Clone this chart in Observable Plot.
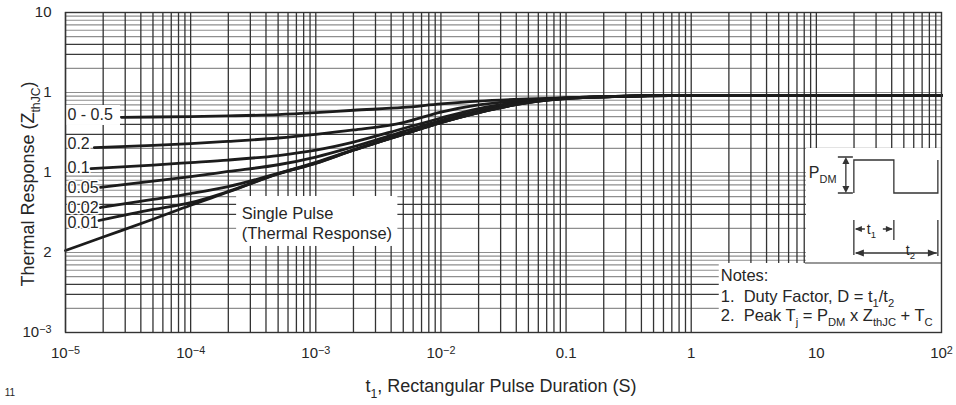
<!DOCTYPE html>
<html><head><meta charset="utf-8">
<script src="https://cdn.jsdelivr.net/npm/d3@7"></script>
<script src="https://cdn.jsdelivr.net/npm/@observablehq/plot@0.6"></script>
<style>
html,body{margin:0;padding:0;background:#fff;}
#chart{width:956px;height:405px;overflow:hidden;}
</style></head><body><div id="chart"></div>
<script>
// ---------- data ----------
const tSingle = [1e-5, 2e-5, 5e-5, 1e-4, 2e-4, 5e-4, 1e-3, 2e-3, 5e-3, 1e-2, 2e-2, 5e-2, 0.1, 0.2, 1, 10, 100];
const zSingle = [0.0106, 0.0156, 0.026, 0.039, 0.057, 0.096, 0.13, 0.19, 0.30, 0.42, 0.56, 0.75, 0.84, 0.88, 0.92, 0.92, 0.92];

const tD05 = [2.8e-5, 5e-5, 1e-4, 2e-4, 5e-4, 1e-3, 2e-3, 5e-3, 1e-2, 2e-2, 5e-2, 0.1, 0.2, 1, 10, 100];
const zD05 = [0.49, 0.494, 0.50, 0.51, 0.53, 0.56, 0.60, 0.65, 0.72, 0.78, 0.83, 0.86, 0.89, 0.92, 0.92, 0.92];

const tD02 = [1.7e-5, 5e-5, 1e-4, 2e-4, 5e-4, 1e-3, 2e-3, 5e-3, 1e-2, 2e-2, 5e-2, 0.1, 0.2, 1, 10, 100];
const zD02 = [0.205, 0.218, 0.229, 0.245, 0.27, 0.30, 0.34, 0.42, 0.57, 0.70, 0.80, 0.855, 0.885, 0.92, 0.92, 0.92];

const tD01 = [1.6e-5, 5e-5, 1e-4, 2e-4, 5e-4, 1e-3, 2e-3, 5e-3, 1e-2, 2e-2, 5e-2, 0.1, 0.2, 1, 10, 100];
const zD01 = [0.112, 0.124, 0.133, 0.143, 0.163, 0.19, 0.24, 0.355, 0.48, 0.63, 0.78, 0.85, 0.885, 0.92, 0.92, 0.92];

const tD005 = [1.9e-5, 5e-5, 1e-4, 2e-4, 5e-4, 1e-3, 2e-3, 5e-3, 1e-2, 2e-2, 5e-2, 0.1, 0.2, 1, 10, 100];
const zD005 = [0.065, 0.078, 0.089, 0.103, 0.125, 0.156, 0.21, 0.325, 0.45, 0.59, 0.77, 0.845, 0.88, 0.92, 0.92, 0.92];

const tD002 = [1.9e-5, 5e-5, 1e-4, 2e-4, 5e-4, 1e-3, 2e-3, 5e-3, 1e-2, 2e-2, 5e-2, 0.1, 0.2, 1, 10, 100];
const zD002 = [0.0365, 0.046, 0.0546, 0.0668, 0.0975, 0.134, 0.192, 0.302, 0.422, 0.562, 0.752, 0.842, 0.882, 0.92, 0.92, 0.92];

const tD001 = [1.85e-5, 5e-5, 1e-4, 2e-4, 5e-4, 1e-3, 2e-3, 5e-3, 1e-2, 2e-2, 5e-2, 0.1, 0.2, 1, 10, 100];
const zD001 = [0.0251, 0.0345, 0.042, 0.058, 0.0965, 0.131, 0.19, 0.30, 0.42, 0.56, 0.75, 0.84, 0.88, 0.92, 0.92, 0.92];

const xTicks = [1e-5, 1e-4, 1e-3, 1e-2, 0.1, 1, 10, 100];
const xTickLabels = ["10^-5", "10^-4", "10^-3", "10^-2", "0.1", "1", "10", "10^2"];
const yTicks = [10, 1, 0.1, 0.01, 0.001];
const yTickLabels = ["10", "1", "1", "2", "10^-3"];

const curveLabels = ["0 - 0.5", "0.2", "0.1", "0.05", "0.02", "0.01"];
const curveLabelY = [0.531, 0.230, 0.114, 0.064, 0.0365, 0.0234];

// ---------- derived tables ----------
const series = [
  {name: "Single", t: tSingle, z: zSingle},
  {name: "0.5", t: tD05, z: zD05},
  {name: "0.2", t: tD02, z: zD02},
  {name: "0.1", t: tD01, z: zD01},
  {name: "0.05", t: tD005, z: zD005},
  {name: "0.02", t: tD002, z: zD002},
  {name: "0.01", t: tD001, z: zD001}
];
const rows = series.flatMap(s => s.t.map((t, i) => ({series: s.name, t, z: s.z[i]})));

const xGrid = [], yGridDark = [], yGridSoft = [];
for (let e = -5; e <= 1; e++) for (let k = 1; k <= 9; k++) xGrid.push(k * Math.pow(10, e));
for (let e = -3; e <= 0; e++) for (let k = 1; k <= 9; k++) {
  const v = k * Math.pow(10, e);
  if (v <= 1e-3 * 1.0001) continue;
  (k === 3 || k === 4 ? yGridDark : yGridSoft).push(v);
}

const labelRows = curveLabels.map((text, i) => ({text, x: 1e-5, y: curveLabelY[i]}));
const boxes = [
  {x1: 1e-5, x2: 2.75e-5, y1: 0.688, y2: 0.387},      // "0 - 0.5" label box
  {x1: 2.33e-4, x2: 4.53e-3, y1: 0.0501, y2: 0.0119},  // single pulse label box
  {x1: 8.32, x2: 100, y1: 0.1995, y2: 0.00729},        // pulse diagram box
  {x1: 1.675, x2: 100, y1: 0.00729, y2: 0.001}         // notes box
];

function lookup(ticks, labels) {
  return d => {
    const i = ticks.findIndex(t => Math.abs(Math.log10(t) - Math.log10(d)) < 1e-6);
    return i >= 0 ? labels[i] : "";
  };
}

const FONT = "'Liberation Sans', Arial, Helvetica, sans-serif";
const INK = "#262626";

const plot = Plot.plot({
  width: 956, height: 405,
  marginLeft: 65, marginRight: 15, marginTop: 12, marginBottom: 73,
  style: {fontFamily: FONT, fontSize: "15px", color: INK, background: "#fff"},
  x: {type: "log", domain: [1e-5, 100]},
  y: {type: "log", domain: [1e-3, 10]},
  marks: [
    Plot.ruleY(yGridSoft, {stroke: "#8e8e8e", strokeWidth: 1.15}),
    Plot.ruleY(yGridDark, {stroke: "#3a3a3a", strokeWidth: 1.2}),
    Plot.ruleX(xGrid, {stroke: "#333", strokeWidth: 1.3}),
    Plot.rect(boxes, {x1: "x1", x2: "x2", y1: "y1", y2: "y2", fill: "white"}),
    Plot.line(rows, {x: "t", y: "z", z: "series", stroke: "#1c1c1c", strokeWidth: 2.8, curve: "monotone-x"}),
    Plot.text(labelRows, {x: "x", y: "y", text: "text", dx: 2, textAnchor: "start", fontSize: 16, fill: INK, stroke: "white", strokeWidth: 3}),
    Plot.text([{text: "Single Pulse\n(Thermal Response)", x: 2.56e-4, y: 0.0237}],
      {x: "x", y: "y", text: "text", textAnchor: "start", lineAnchor: "middle", lineHeight: 1.2, fontSize: 16.5, fill: INK}),
    Plot.frame({stroke: "#333", strokeWidth: 1.4}),
    Plot.axisX({ticks: xTicks, tickFormat: lookup(xTicks, xTickLabels), tickSize: 0, tickPadding: 15, label: null, fontSize: 15}),
    Plot.axisY({ticks: yTicks, tickFormat: lookup(yTicks, yTickLabels), tickSize: 0, tickPadding: 14, label: null, fontSize: 15})
  ]
});
document.getElementById("chart").appendChild(plot);

// ---------- superscripts in tick labels ----------
const svg = d3.select(plot);
svg.selectAll("text").each(function () {
  const el = d3.select(this);
  if (el.selectAll("tspan").size() > 0) return;
  const s = this.textContent;
  const m = /^(10)\^(-?\d+)$/.exec(s);
  if (!m) return;
  el.text(null);
  el.append("tspan").text(m[1]);
  el.append("tspan").attr("dy", "-0.42em").attr("font-size", "0.72em").text(m[2].replace("-", "\u2212"));
});

let sx, sy;
try { const a = plot.scale("x"), b = plot.scale("y"); sx = v => a.apply(v); sy = v => b.apply(v); if (!isFinite(sx(1))) throw 0; }
catch (e) { sx = d3.scaleLog().domain([1e-5, 100]).range([65, 941]); sy = d3.scaleLog().domain([1e-3, 10]).range([332, 12]); }

function richText(parent, x, y, parts, size, anchor, transform) {
  const t = parent.append("text").attr("x", x).attr("y", y)
    .attr("font-size", size).attr("font-family", FONT).attr("fill", INK)
    .attr("text-anchor", anchor || "start");
  if (transform) t.attr("transform", transform);
  let shifted = 0;
  for (const [s, kind] of parts) {
    const sp = t.append("tspan").text(s);
    const target = kind === "sub" ? 0.32 * size : 0;
    const dy = target - shifted;
    if (dy) sp.attr("dy", dy);
    shifted = target;
    if (kind === "sub") sp.attr("font-size", size * 0.68);
  }
  return t;
}

const g = svg.append("g");
// axis titles
richText(g, 0, 0, [["Thermal Response (Z"], ["thJC", "sub"], [")"]], 18, "middle", "translate(34,184) rotate(-90)");
richText(g, 501, 392, [["t"], ["1", "sub"], [", Rectangular Pulse Duration (S)"]], 18, "middle");
g.append("text").attr("x", 10).attr("y", 396).attr("font-size", 10).attr("font-family", FONT).attr("fill", INK).text("11");

// pulse diagram
const pb = boxes[2];
const px0 = sx(pb.x1), py0 = sy(pb.y1);
const d = g.append("g").attr("transform", `translate(${px0},${py0})`)
  .attr("fill", "none").attr("stroke", "#333").attr("stroke-width", 1.3);
richText(d, 3, 30, [["P"], ["DM", "sub"]], 16).attr("stroke", "none");
d.append("path").attr("d", "M32,9H47M32,45H47M40,12V42M48,45V12H88V45H132V12");
d.append("path").attr("d", "M48,72V107M88,72V92M132,72V108M50,81H59M77,81H86M50,105H131");
const heads = d.append("g").attr("fill", "#333").attr("stroke", "none");
heads.append("path").attr("d", "M40,9L36.5,16H43.5Z");
heads.append("path").attr("d", "M40,45L36.5,38H43.5Z");
heads.append("path").attr("d", "M49,81L56,78V84Z");
heads.append("path").attr("d", "M87,81L80,78V84Z");
heads.append("path").attr("d", "M49,105L58,101.5V108.5Z");
heads.append("path").attr("d", "M131,105L122,101.5V108.5Z");
richText(d, 61, 86, [["t"], ["1", "sub"]], 14).attr("stroke", "none");
richText(d, 100, 107, [["t"], ["2", "sub"]], 14).attr("stroke", "none");

// notes box
const nb = boxes[3];
const nx0 = sx(nb.x1), ny0 = sy(nb.y1);
g.append("line").attr("x1", sx(pb.x1) - 1).attr("x2", sx(nb.x2)).attr("y1", ny0).attr("y2", ny0)
  .attr("stroke", "#333").attr("stroke-width", 1.2);
const n = g.append("g").attr("transform", `translate(${nx0},${ny0})`);
richText(n, 2, 18, [["Notes:"]], 16.5);
richText(n, 2, 39, [["1.  Duty Factor, D = t"], ["1", "sub"], ["/t"], ["2", "sub"]], 16.5);
richText(n, 2, 58, [["2.  Peak T"], ["j", "sub"], [" = P"], ["DM", "sub"], [" x Z"], ["thJC", "sub"], [" + T"], ["C", "sub"]], 16.5);
</script>
</body></html>
